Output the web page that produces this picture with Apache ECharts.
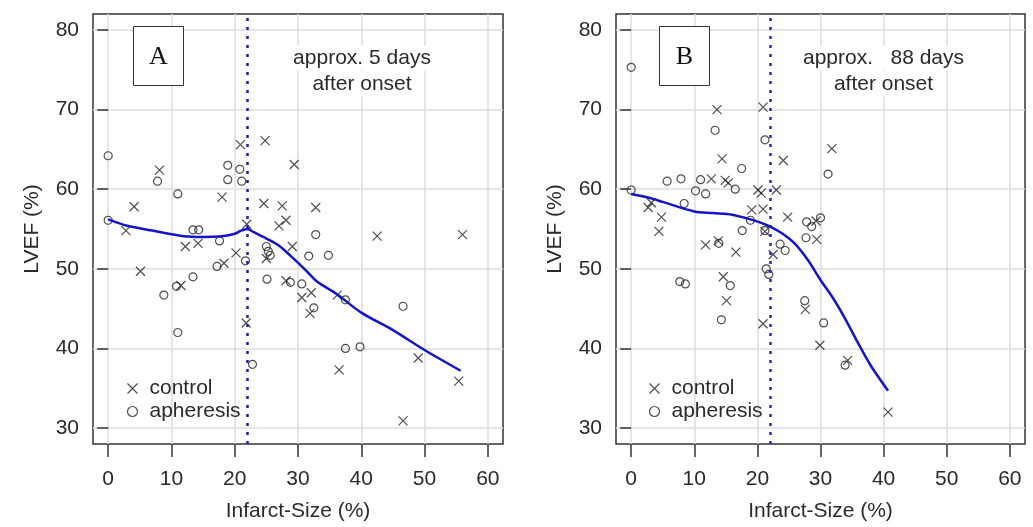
<!DOCTYPE html>
<html><head><meta charset="utf-8">
<script src="https://cdn.jsdelivr.net/npm/echarts@6/dist/echarts.min.js"></script>
<style>html,body{margin:0;padding:0;background:#fff}#c{width:1033px;height:527px}</style>
</head><body><div id="c"></div>
<script>
// ---- data ----
const xTicks = [0, 10, 20, 30, 40, 50, 60];
const yTicks = [30, 40, 50, 60, 70, 80];
const xRange = [-2.4, 62.4];
const yRange = [28, 82];
const cutoffX = 22;

const aControl = [[2.8,54.8],[4.1,57.8],[5.1,49.7],[8.1,62.4],[11.5,47.9],[12.2,52.8],[14.2,53.2],[18.0,59.0],[18.3,50.7],[20.2,52.0],[20.9,65.6],[21.8,43.2],[21.9,55.6],[24.6,58.2],[24.8,66.1],[25.0,51.3],[27.0,55.4],[27.5,57.9],[28.1,56.1],[28.1,48.5],[29.1,52.8],[29.4,63.1],[30.6,46.4],[32.1,47.0],[31.9,44.4],[32.8,57.7],[36.2,46.7],[36.5,37.3],[42.5,54.1],[46.6,30.9],[49.0,38.8],[55.4,35.9],[56.0,54.3]];
const aApheresis = [[0,64.2],[0,56.1],[7.8,61.0],[11.0,59.4],[18.9,63.0],[20.8,62.5],[18.9,61.2],[21.1,61.0],[13.4,54.9],[14.3,54.9],[17.6,53.5],[25.0,52.8],[25.3,52.2],[25.6,51.7],[21.7,51.0],[17.2,50.3],[13.4,49.0],[10.8,47.8],[8.8,46.7],[25.1,48.7],[28.8,48.3],[30.6,48.1],[32.8,54.3],[31.7,51.6],[34.8,51.7],[32.5,45.1],[37.5,46.1],[11.0,42.0],[37.5,40.0],[39.8,40.2],[22.8,38.0],[46.6,45.3]];
const aCurveX = [0,3,7,12,15,18,20,21,22,23,25,27,29,31,33,36,40,45,50,55.7];
const aCurveY = [56.2,55.4,54.8,54.1,54.0,54.1,54.4,54.8,55.0,54.6,53.8,52.9,51.5,50.0,48.4,46.9,44.5,42.3,39.8,37.2];

const bControl = [[13.6,70.0],[20.9,70.3],[14.4,63.8],[24.1,63.6],[31.8,65.1],[12.7,61.3],[14.9,61.1],[15.4,60.8],[20.1,59.9],[23.0,59.9],[20.6,59.5],[19.1,57.4],[20.9,57.5],[24.8,56.5],[2.7,57.7],[3.2,58.3],[4.8,56.5],[4.4,54.7],[11.8,53.0],[13.8,53.5],[16.6,52.1],[21.2,54.7],[22.5,51.8],[14.6,49.0],[15.1,46.0],[20.9,43.1],[27.6,44.9],[29.9,40.4],[34.3,38.5],[29.4,53.7],[29.3,56.0],[40.7,32.0]];
const bApheresis = [[0,75.3],[0,59.9],[13.3,67.4],[21.2,66.2],[17.5,62.6],[5.7,61.0],[7.9,61.3],[11.0,61.2],[10.2,59.8],[11.8,59.4],[16.5,60.0],[8.4,58.2],[31.2,61.9],[13.9,53.2],[17.6,54.8],[18.9,56.1],[27.8,55.9],[28.6,55.3],[30.0,56.4],[27.7,53.9],[23.6,53.1],[24.4,52.3],[21.2,54.8],[21.4,50.0],[21.8,49.3],[7.7,48.4],[8.6,48.1],[15.7,47.9],[14.3,43.6],[27.5,46.0],[30.5,43.2],[33.9,37.9]];
const bCurveX = [0,3,5,10,13,16,18.5,20.5,22,24,26,28,30,32,34,36,38,40.7];
const bCurveY = [59.4,58.9,58.4,57.2,57.0,56.8,56.3,55.8,55.3,54.4,53.1,51.1,48.6,46.3,43.6,40.6,37.8,34.7];

const panelLabels = ['A', 'B'];
const notesTop = ['approx. 5 days', 'approx.   88 days'];
const noteBottom = 'after onset';
const seriesNames = ['control', 'apheresis'];
const xName = 'Infarct-Size (%)';
const yName = 'LVEF (%)';

// ---- chart ----
const FONT = '"Liberation Sans", Arial, sans-serif';
const TXT = '#2a2a2a';
const CROSS = 'path://M0,0L10,10M10,0L0,10';
const markStyle = {color: 'none', borderColor: '#222', borderWidth: 1.2};
const zip = (xs, ys) => xs.map((x, i) => [x, ys[i]]);

const grids = [
  {left: 93, top: 14, width: 410, height: 430},
  {left: 616, top: 14, width: 409, height: 430}
];
const gridOpts = grids.map(g => Object.assign({show: true, borderColor: '#333', borderWidth: 1.5, backgroundColor: '#fff'}, g));

function xAx(gi) {
  return {type: 'value', gridIndex: gi, min: xRange[0], max: xRange[1],
    name: xName, nameLocation: 'middle', nameGap: 57,
    nameTextStyle: {fontSize: 21, color: TXT, fontFamily: FONT},
    axisLine: {show: false},
    axisTick: {show: true, inside: false, length: 13, customValues: xTicks, lineStyle: {color: '#333', width: 1.5}},
    axisLabel: {customValues: xTicks, fontSize: 21, color: TXT, margin: 25, fontFamily: FONT},
    splitLine: {show: true, lineStyle: {color: '#dcdcdc', width: 1.5}}};
}
function yAx(gi) {
  return {type: 'value', gridIndex: gi, min: yRange[0], max: yRange[1],
    name: yName, nameLocation: 'middle', nameGap: 50, nameRotate: 90,
    nameTextStyle: {fontSize: 21, color: TXT, fontFamily: FONT},
    axisLine: {show: false},
    axisTick: {show: true, inside: false, length: 11, customValues: yTicks, lineStyle: {color: '#333', width: 1.5}},
    axisLabel: {customValues: yTicks, fontSize: 21, color: TXT, margin: 14, fontFamily: FONT},
    splitLine: {show: true, lineStyle: {color: '#dcdcdc', width: 1.5}}};
}

function panelSeries(gi, control, apher, cx, cy, vlineColor) {
  return [
    {name: seriesNames[0], type: 'scatter', xAxisIndex: gi, yAxisIndex: gi, data: control,
     symbol: CROSS, symbolSize: 9, itemStyle: markStyle, z: 4, silent: true},
    {name: seriesNames[1], type: 'scatter', xAxisIndex: gi, yAxisIndex: gi, data: apher,
     symbol: 'circle', symbolSize: 8, itemStyle: markStyle, z: 4, silent: true},
    {name: 'loess' + gi, type: 'line', xAxisIndex: gi, yAxisIndex: gi, data: zip(cx, cy),
     showSymbol: false, smooth: 0.3, lineStyle: {color: '#1414c8', width: 2.5}, z: 5, silent: true,
     markLine: {silent: true, symbol: 'none', label: {show: false},
       lineStyle: {type: [3, 6], width: 2.5, color: vlineColor},
       data: [{xAxis: cutoffX}]}}
  ];
}

function legendFor(left) {
  return {left: left, top: 378, orient: 'vertical', itemWidth: 24, itemHeight: 10, itemGap: 2,
    padding: 0, selectedMode: false, symbolKeepAspect: true,
    textStyle: {fontSize: 21, color: TXT, fontFamily: FONT},
    data: [
      {name: seriesNames[0], icon: CROSS, itemStyle: markStyle},
      {name: seriesNames[1], icon: 'circle', itemStyle: markStyle}
    ]};
}

function panelGraphics(boxX, label, noteCx, noteTop) {
  return [
    {type: 'rect', z: 100, shape: {x: boxX + 0.5, y: 26.5, width: 50, height: 59},
     style: {fill: '#fff', stroke: '#333', lineWidth: 1}},
    {type: 'text', z: 101, x: boxX + 25.5, y: 57,
     style: {text: label, font: '26px "Liberation Serif", "Times New Roman", serif', fill: '#111',
       align: 'center', verticalAlign: 'middle', textAlign: 'center', textVerticalAlign: 'middle'}},
    {type: 'text', z: 101, x: noteCx, y: 58,
     style: {text: noteTop, font: '21px ' + FONT, fill: TXT, backgroundColor: '#fff', padding: [2, 2],
       align: 'center', verticalAlign: 'middle', textAlign: 'center', textVerticalAlign: 'middle'}},
    {type: 'text', z: 101, x: noteCx, y: 84,
     style: {text: noteBottom, font: '21px ' + FONT, fill: TXT, backgroundColor: '#fff', padding: [2, 2],
       align: 'center', verticalAlign: 'middle', textAlign: 'center', textVerticalAlign: 'middle'}}
  ];
}

const chart = echarts.init(document.getElementById('c'), null, {renderer: 'canvas'});
chart.setOption({
  animation: false,
  backgroundColor: '#fff',
  grid: gridOpts,
  xAxis: [xAx(0), xAx(1)],
  yAxis: [yAx(0), yAx(1)],
  legend: [legendFor(125), legendFor(647)],
  series: [].concat(
    panelSeries(0, aControl, aApheresis, aCurveX, aCurveY, '#20209a'),
    panelSeries(1, bControl, bApheresis, bCurveX, bCurveY, '#2626dc')
  ),
  graphic: [].concat(
    panelGraphics(133, panelLabels[0], 362, notesTop[0]),
    panelGraphics(659, panelLabels[1], 883.5, notesTop[1])
  )
});
</script></body></html>
